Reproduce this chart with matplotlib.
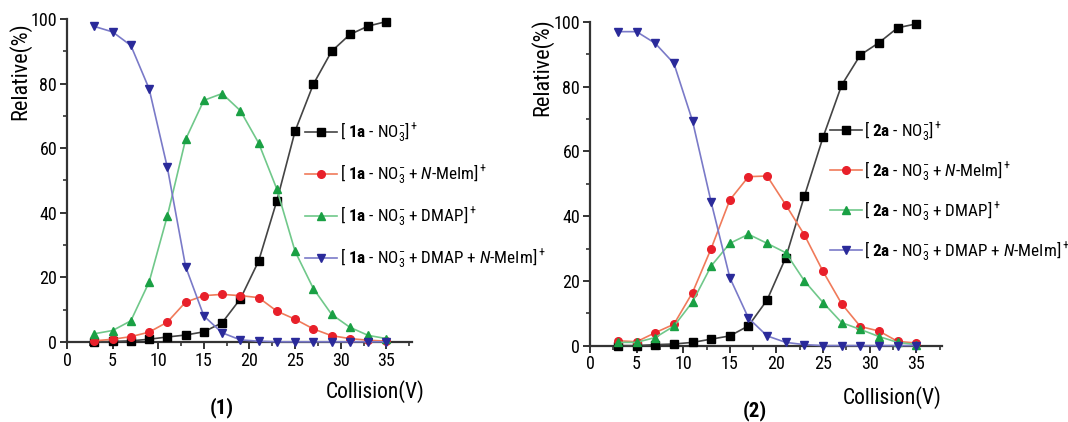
import matplotlib
matplotlib.use("Agg")
import matplotlib.pyplot as plt
from matplotlib.ticker import MultipleLocator
from matplotlib import font_manager

fams = {f.name for f in font_manager.fontManager.ttflist}
FONT = "Liberation Sans"
NARROW = False
for cand in ["Liberation Sans Narrow", "Roboto Condensed", "Open Sans Condensed", "Arial Narrow"]:
    if cand in fams:
        FONT = cand
        NARROW = True
        break
plt.rcParams["font.family"] = [FONT, "DejaVu Sans"]
plt.rcParams["mathtext.fontset"] = "custom"
plt.rcParams["mathtext.rm"] = FONT
plt.rcParams["mathtext.it"] = FONT + ":italic"
plt.rcParams["mathtext.bf"] = FONT + ":bold"

collision = [3, 5, 7, 9, 11, 13, 15, 17, 19, 21, 23, 25, 27, 29, 31, 33, 35]

# Panel (1)
p1_no3 = [0, 0.1, 0.3, 0.8, 1.5, 2.1, 3.1, 5.9, 13.3, 25, 43.7, 65.3, 79.8, 90, 95.2, 97.8, 99.2]
p1_meim = [0.3, 0.8, 1.6, 3.0, 6.1, 12.3, 14.3, 14.7, 14.3, 13.7, 9.5, 7.0, 4.0, 1.9, 1.0, 0.5, 0.2]
p1_dmap = [2.5, 3.5, 6.5, 18.5, 39, 62.7, 74.8, 76.9, 71.6, 61.6, 47.3, 28, 16.5, 8.5, 4.5, 2.0, 1.0]
p1_both = [97.7, 96, 91.8, 78.4, 54, 23.3, 8.0, 2.8, 0.6, 0.2, 0, 0, 0, 0, 0, 0, 0]

# Panel (2)
p2_no3 = [0, 0, 0.3, 0.5, 1.0, 2.0, 3.0, 6.1, 14.1, 27.2, 46.2, 64.4, 80.5, 89.8, 93.6, 98.2, 99.4]
p2_meim = [1.5, 1.2, 4.0, 6.6, 16.4, 30, 45, 52.2, 52.4, 43.5, 34.2, 22.9, 12.9, 5.9, 4.5, 1.3, 0.8]
p2_dmap = [1.0, 1.0, 2.5, 6.0, 13.5, 24.6, 31.6, 34.4, 31.6, 28.7, 20, 13.3, 7.1, 5.0, 2.8, 1.0, 0.3]
p2_both = [97, 97, 93.4, 87.2, 69.4, 44.3, 21, 8.5, 3.0, 1.0, 0.3, 0, 0, 0, 0, 0, 0]

labels1 = [
    r"[ $\mathbf{1a}$ - NO$_3^{-}$]$^+$",
    r"[ $\mathbf{1a}$ - NO$_3^{-}$ + $\it{N}$-MeIm]$^+$",
    r"[ $\mathbf{1a}$ - NO$_3^{-}$ + DMAP]$^+$",
    r"[ $\mathbf{1a}$ - NO$_3^{-}$ + DMAP + $\it{N}$-MeIm]$^+$",
]
labels2 = [
    r"[ $\mathbf{2a}$ - NO$_3^{-}$]$^+$",
    r"[ $\mathbf{2a}$ - NO$_3^{-}$ + $\it{N}$-MeIm]$^+$",
    r"[ $\mathbf{2a}$ - NO$_3^{-}$ + DMAP]$^+$",
    r"[ $\mathbf{2a}$ - NO$_3^{-}$ + DMAP + $\it{N}$-MeIm]$^+$",
]

styles = [
    dict(marker="s", color="#444444", mfc="#000000", mec="#000000"),
    dict(marker="o", color="#f07a5a", mfc="#e8202a", mec="#e8202a"),
    dict(marker="^", color="#70c88a", mfc="#1aa044", mec="#1aa044"),
    dict(marker="v", color="#7a7ac8", mfc="#2a2a9a", mec="#2a2a9a"),
]

LEGFS = 12.3 if NARROW else 10.3

fig = plt.figure(figsize=(10.68, 4.22), dpi=100)
ax1 = fig.add_axes([0.0627, 0.190, 0.323, 0.765])
ax2 = fig.add_axes([0.5524, 0.181, 0.330, 0.767])


def draw(ax, series, labels, leg_anchor, lspace, tag, tag_xy, ylab_xy, xlab_xy):
    handles = []
    for ys, st, lab in zip(series, styles, labels):
        h, = ax.plot(collision, ys, lw=1.2, ms=5.5, clip_on=False, zorder=3, label=lab, **st)
        handles.append(h)
    ax.set_xlim(0, 37.8)
    ax.set_ylim(0, 100)
    for s in ("top", "right"):
        ax.spines[s].set_visible(False)
    for s in ("left", "bottom"):
        ax.spines[s].set_linewidth(1.6)
        ax.spines[s].set_color("#333333")
    ax.xaxis.set_major_locator(MultipleLocator(5))
    ax.xaxis.set_minor_locator(MultipleLocator(2.5))
    ax.yaxis.set_major_locator(MultipleLocator(20))
    ax.yaxis.set_minor_locator(MultipleLocator(10))
    ax.tick_params(which="major", direction="out", length=5, width=1.4, labelsize=13,
                   color="#333333", pad=2)
    ax.tick_params(which="minor", direction="out", length=3, width=1.2, color="#333333")
    ax.set_ylabel("Relative(%)", fontsize=16)
    ax.yaxis.set_label_coords(*ylab_xy)
    ax.set_xlabel("Collision(V)", fontsize=15.5)
    ax.xaxis.set_label_coords(*xlab_xy)
    ax.legend(handles=handles, loc="upper left", bbox_to_anchor=leg_anchor,
              bbox_transform=fig.transFigure, frameon=False, fontsize=LEGFS,
              handlelength=1.9, handletextpad=0.12, labelspacing=lspace,
              borderaxespad=0, borderpad=0)
    fig.text(tag_xy[0], tag_xy[1], tag, fontsize=15, fontweight="bold", ha="center", va="center")


draw(ax1, [p1_no3, p1_meim, p1_dmap, p1_both], labels1, (0.2856, 0.714), 1.08, "(1)", (0.208, 0.033),
     (-0.104, 0.84), (0.893, -0.117))
draw(ax2, [p2_no3, p2_meim, p2_dmap, p2_both], labels2, (0.777, 0.717), 0.96, "(2)", (0.707, 0.028),
     (-0.105, 0.86), (0.857, -0.124))

fig.savefig("out.png", dpi=100, facecolor="white")
